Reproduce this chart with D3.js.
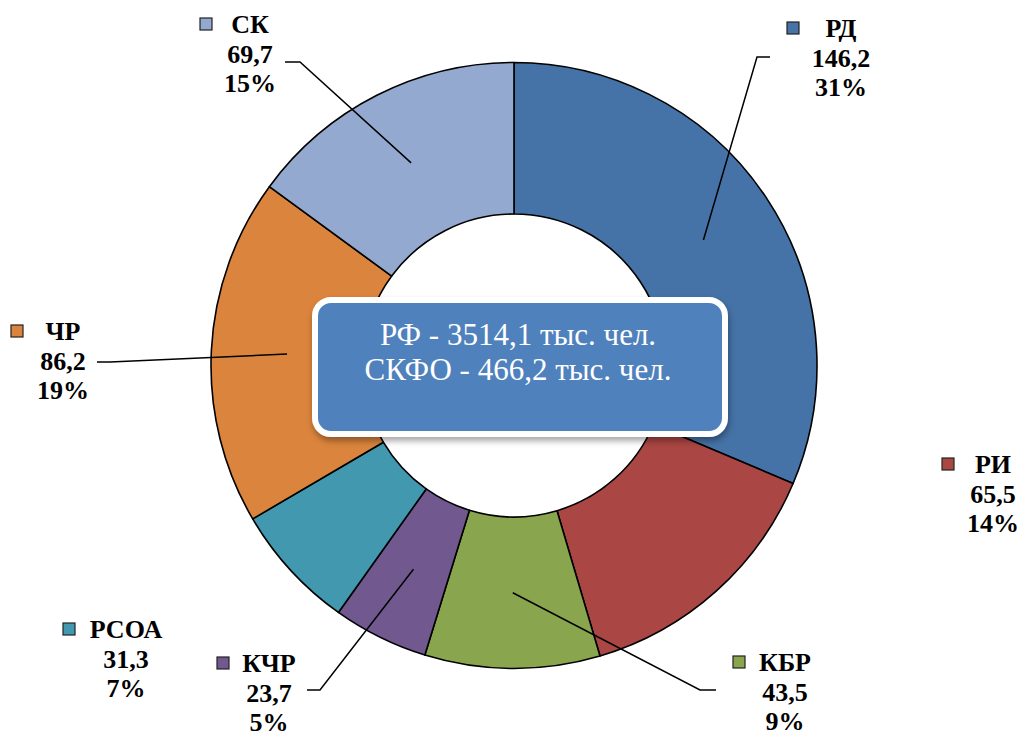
<!DOCTYPE html>
<html><head><meta charset="utf-8">
<script src="https://cdn.jsdelivr.net/npm/d3@7"></script>
<style>html,body{margin:0;padding:0;background:#fff;}svg{display:block;}</style>
</head><body>
<svg id="chart" width="1024" height="736"></svg>
<script>
const categories = ["РД","РИ","КБР","КЧР","РСОА","ЧР","СК"];
const values = [146.2, 65.5, 43.5, 23.7, 31.3, 86.2, 69.7];
const percentLabels = ["31%","14%","9%","5%","7%","19%","15%"];
const colors = ["#4572A7","#AA4643","#89A54E","#71588F","#4198AF","#DB843D","#93A9CF"];
const centerLines = ["РФ - 3514,1 тыс. чел.","СКФО - 466,2 тыс. чел."];

const FONT = '"Liberation Serif", "Times New Roman", serif';
const svg = d3.select("#chart");
const cx = 514, cy = 365.5, rOut = 303, rIn = 151.5;

const defs = svg.append("defs");
const f = defs.append("filter").attr("id","shadow").attr("x","-10%").attr("y","-10%").attr("width","120%").attr("height","140%");
f.append("feDropShadow").attr("dx",1).attr("dy",4).attr("stdDeviation",3).attr("flood-color","#000").attr("flood-opacity",0.35);

const data = categories.map((c,i)=>({name:c, value:values[i], pct:percentLabels[i], color:colors[i]}));
const pie = d3.pie().sort(null).value(d=>d.value).startAngle(0).endAngle(2*Math.PI);
const arcs = pie(data);
const arc = d3.arc().innerRadius(rIn).outerRadius(rOut);
const mid = d3.arc().innerRadius((rIn+rOut)/2).outerRadius((rIn+rOut)/2);

const g = svg.append("g").attr("transform",`translate(${cx},${cy})`);
g.selectAll("path.slice").data(arcs).join("path")
  .attr("class","slice")
  .attr("d",arc)
  .attr("fill",d=>d.data.color)
  .attr("stroke","#000")
  .attr("stroke-width",1.6)
  .attr("stroke-linejoin","round");

// label layout (positions)
const layout = {
  "СК":  {x:250, y:33,  sq:200, lead:[[285,62],[300,62]]},
  "РД":  {x:841, y:37,  sq:787, lead:[[770,57],[757,57]]},
  "РИ":  {x:993, y:473, sq:942, lead:null},
  "ЧР":  {x:63,  y:340, sq:11,  lead:[[97,362],[110,362]]},
  "РСОА":{x:126, y:638, sq:63,  lead:null},
  "КЧР": {x:269, y:672, sq:217, lead:[[307,690],[320,690]]},
  "КБР": {x:785, y:671, sq:733, lead:[[716,690],[700,690]]}
};

const fmt = v => d3.format(".1f")(v).replace(".",",");
const lineH = 29.5;

arcs.forEach(a=>{
  const L = layout[a.data.name];
  if (L.lead){
    const c = mid.centroid(a);
    const pts = [L.lead[0], L.lead[1], [c[0]+cx, c[1]+cy]];
    svg.append("path").attr("d", d3.line()(pts))
      .attr("fill","none").attr("stroke","#000").attr("stroke-width",1.5);
  }
  const t = svg.append("text")
    .style("font-family",FONT)
    .style("font-weight","bold").style("font-size","26px").attr("fill","#000")
    .attr("text-anchor","middle");
  [a.data.name, fmt(a.data.value), a.data.pct].forEach((s,i)=>{
    t.append("tspan").attr("x",L.x).attr("y",L.y+i*lineH).text(s);
  });
  svg.append("rect").attr("x",L.sq).attr("y",L.y-15).attr("width",12).attr("height",12)
    .attr("fill",a.data.color).attr("stroke","#222").attr("stroke-width",1.2);
});

// center box
svg.append("rect").attr("x",315).attr("y",300).attr("width",410).attr("height",134)
  .attr("rx",16).attr("ry",16)
  .attr("fill","#4F81BD").attr("stroke","#fff").attr("stroke-width",6)
  .attr("filter","url(#shadow)");
const ct = svg.append("text")
  .style("font-family",FONT)
  .style("font-size","31px").attr("fill","#fff").attr("text-anchor","middle");
centerLines.forEach((s,i)=>{
  ct.append("tspan").attr("x",518).attr("y",345+i*35).text(s);
});
</script>
</body></html>
